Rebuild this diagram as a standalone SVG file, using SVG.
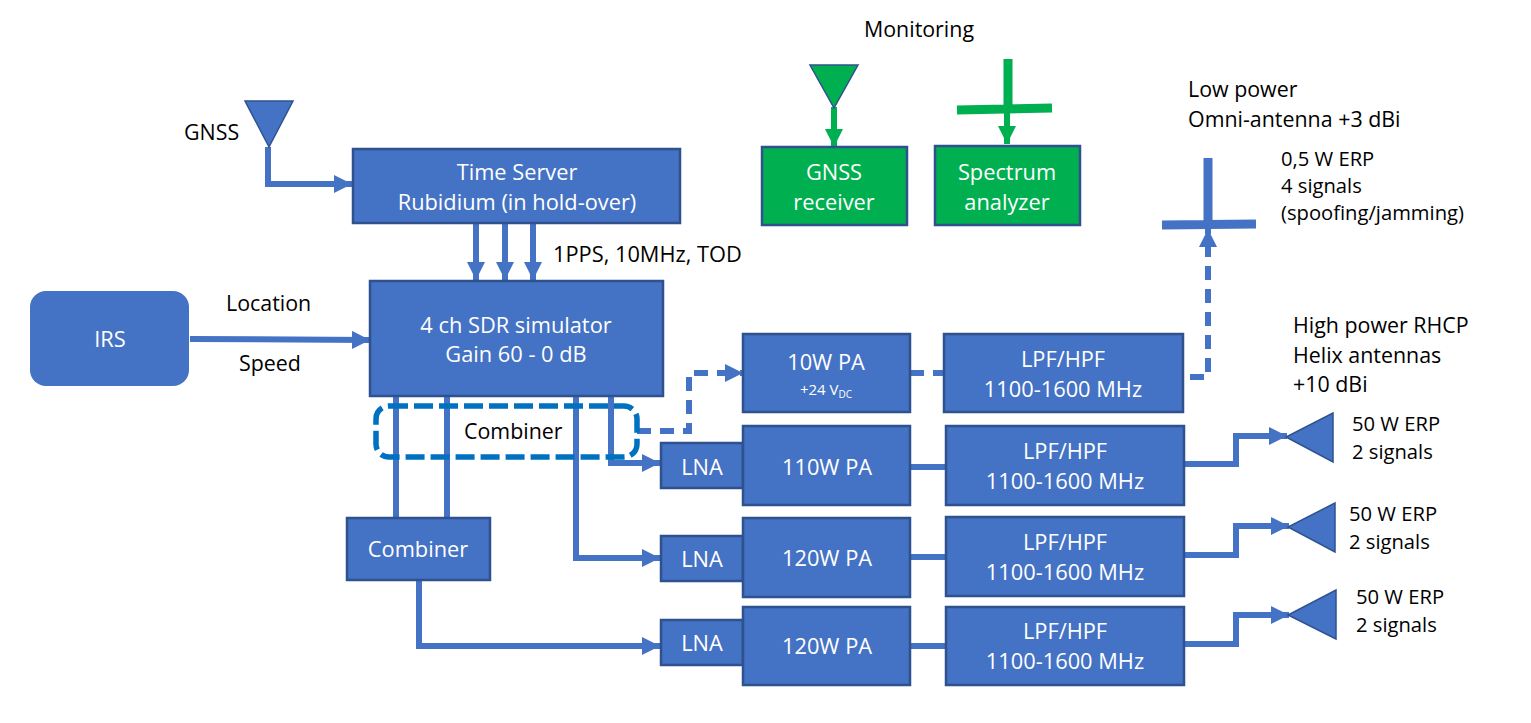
<svg xmlns="http://www.w3.org/2000/svg" width="1531" height="723" viewBox="0 0 1531 723">
<defs>
<marker id="ah" markerUnits="userSpaceOnUse" markerWidth="18" markerHeight="18" refX="18" refY="9" orient="auto"><path d="M0 0L18 9L0 18Z" fill="#4472c4"/></marker>
<marker id="ag" markerUnits="userSpaceOnUse" markerWidth="18" markerHeight="18" refX="18" refY="9" orient="auto"><path d="M0 0L18 9L0 18Z" fill="#00b050"/></marker>
</defs>
<style>
text{font-family:"Open Sans","Noto Sans","Liberation Sans",sans-serif;font-size:21.4px;fill:#000}
.s{font-size:20.2px}
.b{fill:#4472c4;stroke:#2f528f;stroke-width:2.5}
.g{fill:#00b050;stroke:#2f528f;stroke-width:2.5}
.w{fill:#fff;text-anchor:middle;font-size:21.8px}
.c{fill:none;stroke:#4472c4;stroke-width:6}
.d{stroke-dasharray:14 9}
.cg{fill:none;stroke:#00b050;stroke-width:6}
.t{fill:#4472c4;stroke:#2f528f;stroke-width:1.5}
</style>
<g id="connectors">
<path class="c" d="M268 147V184H352" marker-end="url(#ah)"/>
<path class="c" d="M476 223V280" marker-end="url(#ah)"/>
<path class="c" d="M505 223V280" marker-end="url(#ah)"/>
<path class="c" d="M533 223V280" marker-end="url(#ah)"/>
<path class="c" d="M190 339L370 340" marker-end="url(#ah)"/>
<path class="c" d="M396 396V518"/>
<path class="c" d="M447 396V518"/>
<path class="c" d="M576 396V558H660" marker-end="url(#ah)"/>
<path class="c" d="M611 396V463H660" marker-end="url(#ah)"/>
<path class="c" d="M419 580V646H660" marker-end="url(#ah)"/>
<path class="c d" d="M637 431H689V373H743" marker-end="url(#ah)"/>
<path class="c d" d="M910 373H944"/>
<path class="c d" d="M1190 377H1208V229" marker-end="url(#ah)"/>
<path class="c" d="M910 467H946"/>
<path class="c" d="M910 557H946"/>
<path class="c" d="M910 646H946"/>
<path class="c" d="M1185 464H1236V436H1287" marker-end="url(#ah)"/>
<path class="c" d="M1185 555H1236V526H1289" marker-end="url(#ah)"/>
<path class="c" d="M1185 644H1236V615H1289" marker-end="url(#ah)"/>
<path class="cg" d="M834 107V147" marker-end="url(#ag)"/>
<path class="cg" d="M1007 110V144" marker-end="url(#ag)"/>
</g>
<g id="gnss-ant"><path class="t" d="M245 101H293L269 147Z"/><text x="184" y="140">GNSS</text></g>
<g id="time-server"><rect class="b" x="353" y="149" width="327" height="74"/><text class="w" x="517" y="180">Time Server</text><text class="w" x="517" y="210">Rubidium (in hold-over)</text></g>
<text x="553" y="262" style="font-size:21.8px">1PPS, 10MHz, TOD</text>
<g id="irs"><rect x="30" y="291" width="159" height="95" rx="16" fill="#4472c4"/><text class="w" x="110" y="347">IRS</text></g>
<text x="226" y="311">Location</text>
<text x="239" y="371">Speed</text>
<g id="sdr"><rect class="b" x="370" y="281" width="293" height="115"/><text class="w" x="516" y="333">4 ch SDR simulator</text><text class="w" x="516" y="362">Gain 60 - 0 dB</text></g>
<g id="combiner-dashed"><rect x="376" y="406" width="261" height="51" rx="13" fill="none" stroke="#0070c0" stroke-width="5.5" stroke-dasharray="19 6"/><text x="464" y="439">Combiner</text></g>
<g id="combiner"><rect class="b" x="347" y="518" width="143" height="62"/><text class="w" x="418" y="557">Combiner</text></g>
<g id="pa10"><rect class="b" x="743" y="334" width="167" height="78"/><text class="w" x="826" y="370">10W PA</text><text class="w" x="826" y="395" style="font-size:15px">+24 V<tspan dy="3" style="font-size:10px">DC</tspan></text></g>
<g id="lpf1"><rect class="b" x="944" y="334" width="239" height="78"/><text class="w" x="1063" y="367">LPF/HPF</text><text class="w" x="1063" y="397">1100-1600 MHz</text></g>
<g id="lna1"><rect class="b" x="661" y="443" width="82" height="45"/><text class="w" x="702" y="475">LNA</text></g>
<g id="pa110"><rect class="b" x="743" y="426" width="167" height="79"/><text class="w" x="827" y="475">110W PA</text></g>
<g id="lpf2"><rect class="b" x="946" y="426" width="238" height="79"/><text class="w" x="1065" y="459">LPF/HPF</text><text class="w" x="1065" y="489">1100-1600 MHz</text></g>
<g id="lna2"><rect class="b" x="661" y="536" width="82" height="45"/><text class="w" x="702" y="567">LNA</text></g>
<g id="pa120a"><rect class="b" x="743" y="518" width="167" height="79"/><text class="w" x="827" y="566">120W PA</text></g>
<g id="lpf3"><rect class="b" x="946" y="517" width="238" height="79"/><text class="w" x="1065" y="550">LPF/HPF</text><text class="w" x="1065" y="580">1100-1600 MHz</text></g>
<g id="lna3"><rect class="b" x="661" y="620" width="82" height="45"/><text class="w" x="702" y="651">LNA</text></g>
<g id="pa120b"><rect class="b" x="743" y="607" width="167" height="78"/><text class="w" x="827" y="654">120W PA</text></g>
<g id="lpf4"><rect class="b" x="946" y="607" width="238" height="78"/><text class="w" x="1065" y="639">LPF/HPF</text><text class="w" x="1065" y="669">1100-1600 MHz</text></g>
<g id="helix1"><path class="t" d="M1333 413V462L1286 437Z"/><text class="s" x="1352" y="431">50 W ERP</text><text class="s" x="1352" y="459">2 signals</text></g>
<g id="helix2"><path class="t" d="M1335 503V552L1288 527Z"/><text class="s" x="1349" y="521">50 W ERP</text><text class="s" x="1349" y="549">2 signals</text></g>
<g id="helix3"><path class="t" d="M1336 590V639L1288 615Z"/><text class="s" x="1356" y="604">50 W ERP</text><text class="s" x="1356" y="632">2 signals</text></g>
<g id="omni"><path d="M1208 158V225M1162 225L1256 224" fill="none" stroke="#4472c4" stroke-width="9"/></g>
<text x="1188" y="97">Low power</text>
<text x="1188" y="127">Omni-antenna +3 dBi</text>
<text class="s" x="1281" y="166">0,5 W ERP</text>
<text class="s" x="1281" y="193">4 signals</text>
<text class="s" x="1281" y="220">(spoofing/jamming)</text>
<text x="1293" y="333">High power RHCP</text>
<text x="1293" y="363">Helix antennas</text>
<text x="1293" y="392">+10 dBi</text>
<text x="864" y="37">Monitoring</text>
<g id="mon-ant"><path class="g" style="stroke-width:1.5" d="M810 65H858L834 108Z"/></g>
<g id="mon-omni"><path d="M1008 59V109M957 110L1052 108" fill="none" stroke="#00b050" stroke-width="9"/></g>
<g id="gnss-rx"><rect class="g" x="762" y="147" width="145" height="78"/><text class="w" x="834" y="180">GNSS</text><text class="w" x="834" y="210">receiver</text></g>
<g id="spectrum"><rect class="g" x="935" y="146" width="145" height="79"/><text class="w" x="1007" y="180">Spectrum</text><text class="w" x="1007" y="210">analyzer</text></g>
</svg>
